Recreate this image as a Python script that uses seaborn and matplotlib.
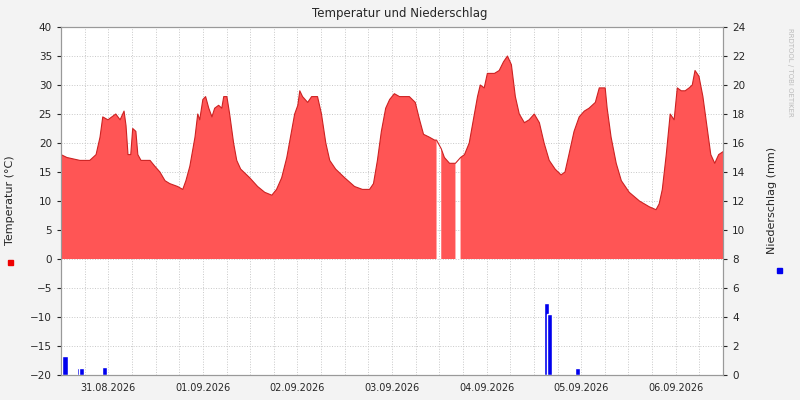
import numpy as np
import pandas as pd
import matplotlib
matplotlib.use("Agg")
import matplotlib.pyplot as plt
import seaborn as sns

hours = [0,1.5,4.8,7.3,8.9,9.9,10.6,11.9,12.9,13.9,15.0,16.0,16.5,17.0,17.7,18.2,19.0,19.5,20.3,22.6,23.8,
 25.1,26.4,27.6,29.6,30.9,31.7,32.7,34.0,34.7,35.2,36.0,36.7,37.5,38.3,39.0,40.0,40.8,41.3,42.1,42.8,43.8,44.6,45.6,47.9,
 49.9,51.7,53.5,54.7,56.0,57.3,58.5,59.3,60.1,60.6,61.3,62.6,63.6,65.1,66.1,67.2,68.2,69.7,72.0,
 74.5,76.5,78.3,79.3,80.3,81.3,82.4,83.4,84.6,85.9,87.2,88.4,89.9,91.0,92.0,93.5,94.8,95.3,95.31,
 96.49,96.5,97.3,98.6,100.1,100.11,101.39,101.4,102.4,103.6,104.9,105.7,106.4,107.4,108.2,110.0,111.2,112.3,113.3,114.3,115.3,116.3,117.6,
 118.8,120.1,121.4,122.6,123.9,125.4,126.9,127.9,128.9,130.2,131.5,132.8,134.0,135.6,136.6,138.1,138.6,139.6,140.9,142.2,144.2,
 146.8,149.3,151.0,151.8,152.6,153.6,154.6,155.6,156.4,157.4,158.4,159.4,160.2,160.9,161.9,162.9,163.9,164.9,165.9,166.9,168.0]
temp = [18,17.5,17,17,18,21,24.5,24,24.5,25,24,25.5,23,18,18,22.5,22,18,17,17,16,
 15,13.5,13,12.5,12,13.5,16,21,25,24,27.5,28,26,24.5,26,26.5,26,28,28,25,20,17,15.5,14,
 12.5,11.5,11,12,14,17.5,22,25,26.5,29,28,27,28,28,25,20,17,15.5,14,
 12.5,12,12,13,17,22,26,27.5,28.5,28,28,28,27,24,21.5,21,20.5,20.5,np.nan,
 np.nan,19,17.5,16.5,16.5,np.nan,np.nan,17.5,18,20,25,28,30,29.5,32,32,32.5,34,35,33.5,28,25,23.5,
 24,25,23.5,20,17,15.5,14.5,15,18,22,24.5,25.5,26,27,29.5,29.5,26,21,16.5,13.5,11.5,
 10,9,8.5,9.5,12,18,25,24,29.5,29,29,29.5,30,32.5,31.5,28,23,18,16.5,18,18.5]
rain_hours = [1.0,4.6,5.1,11.1,123.1,123.9,131.0]
rain_mm = [1.3,0.5,0.5,0.55,5.0,4.2,0.5]
day_labels = ["31.08.2026","01.09.2026","02.09.2026","03.09.2026","04.09.2026","05.09.2026","06.09.2026"]
day_ticks = [12,36,60,84,108,132,156]

df = pd.DataFrame({"h": hours, "t": temp})
sns.set_style("white")
plt.rcParams['font.family'] = ['DejaVu Sans']
fig = plt.figure(figsize=(8,4), dpi=100, facecolor="#f3f3f3")
ax = fig.add_axes([61/800, 25/400, 662/800, 348/400])
ax.set_facecolor("white")
ax.fill_between(df.h, 0, df.t, color="#ff5555", lw=0)
sns.lineplot(data=df, x="h", y="t", ax=ax, color="#cc2222", lw=0.8)
ax.set_xlim(0,168); ax.set_ylim(-20,40)
ax.set_yticks(range(-20,41,5))
ax.set_xticks(day_ticks); ax.set_xticklabels(day_labels, fontsize=7)
ax.set_xticks(np.arange(0,169,6), minor=True)
ax.tick_params(axis='y', labelsize=7.5, length=3)
ax.tick_params(axis='x', which='both', length=2)
ax.grid(True, which='both', color="#c8c8c8", ls=":", lw=0.7)
ax.set_axisbelow(True)
ax.set_xlabel(""); ax.set_ylabel("")
ax2 = ax.twinx()
ax2.bar(rain_hours, rain_mm, width=1.3, color="#0000ee", align="center")
ax2.set_ylim(0,24); ax2.set_yticks(range(0,25,2))
ax2.tick_params(axis='y', labelsize=7.5, length=3)
for a in (ax, ax2):
    for s in a.spines.values():
        s.set_color("#999999"); s.set_linewidth(0.8)
fig.text(0.5, 0.965, "Temperatur und Niederschlag", ha="center", va="center", fontsize=8.5)
fig.text(0.013, 0.5, "Temperatur (°C)", rotation=90, ha="center", va="center", fontsize=8)
fig.text(0.965, 0.5, "Niederschlag (mm)", rotation=90, ha="center", va="center", fontsize=8)
fig.text(0.988, 0.82, "RRDTOOL / TOBI OETIKER", rotation=270, ha="center", va="center", fontsize=5, color="#bbbbbb")
fig.patches.append(plt.Rectangle((0.010, 0.338), 0.006, 0.012, transform=fig.transFigure, color="#ee0000"))
fig.patches.append(plt.Rectangle((0.971, 0.318), 0.006, 0.012, transform=fig.transFigure, color="#0000ee"))
fig.savefig("out.png", dpi=100, facecolor=fig.get_facecolor())
